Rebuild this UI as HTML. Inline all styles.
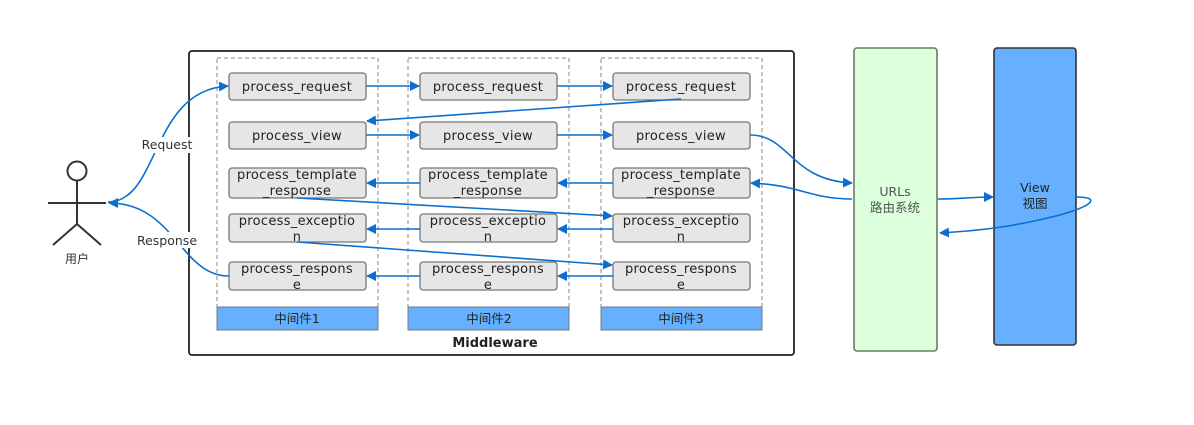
<!DOCTYPE html>
<html><head><meta charset="utf-8"><style>
html,body{margin:0;padding:0;background:#fff;}
svg{display:block}
text{font-family:"DejaVu Sans","Liberation Sans","Noto Sans CJK SC",sans-serif;}
.b{fill:#e6e6e6;stroke:#777;stroke-width:1.3}
.t{font-size:13px;fill:#222;text-anchor:middle;letter-spacing:0.3px}
.a{stroke:#0b6fd0;stroke-width:1.6;fill:none}
</style></head><body>
<svg width="1194" height="425" viewBox="0 0 1194 425" xmlns="http://www.w3.org/2000/svg">
<defs><marker id="m" markerWidth="10" markerHeight="10" refX="9" refY="5" orient="auto" markerUnits="userSpaceOnUse"><path d="M0,0 L10,5 L0,10 Z" fill="#0b6fd0"/></marker></defs>
<rect x="189" y="51" width="605" height="304" rx="3" fill="#fff" stroke="#222" stroke-width="1.8"/>
<text x="495" y="347" font-size="13" font-weight="bold" text-anchor="middle" fill="#222">Middleware</text>
<g id="cols">
<rect x="217" y="58" width="161" height="272" fill="none" stroke="#888" stroke-dasharray="4,3"/>
<rect x="217" y="307" width="161" height="23" fill="#66b0ff" stroke="#777"/>
<text x="297" y="323" font-size="12.5" text-anchor="middle" fill="#222">中间件1</text>
<rect x="408" y="58" width="161" height="272" fill="none" stroke="#888" stroke-dasharray="4,3"/>
<rect x="408" y="307" width="161" height="23" fill="#66b0ff" stroke="#777"/>
<text x="489" y="323" font-size="12.5" text-anchor="middle" fill="#222">中间件2</text>
<rect x="601" y="58" width="161" height="272" fill="none" stroke="#888" stroke-dasharray="4,3"/>
<rect x="601" y="307" width="161" height="23" fill="#66b0ff" stroke="#777"/>
<text x="681" y="323" font-size="12.5" text-anchor="middle" fill="#222">中间件3</text>
</g>
<g>
<rect class="b" x="229" y="73" width="137" height="27" rx="3"/><text class="t" x="297" y="91">process_request</text>
<rect class="b" x="229" y="122" width="137" height="27" rx="3"/><text class="t" x="297" y="140">process_view</text>
<rect class="b" x="229" y="168" width="137" height="30" rx="3"/><text class="t" x="297" y="179">process_template</text><text class="t" x="297" y="195">_response</text>
<rect class="b" x="229" y="214" width="137" height="28" rx="3"/><text class="t" x="297" y="225">process_exceptio</text><text class="t" x="297" y="241">n</text>
<rect class="b" x="229" y="262" width="137" height="28" rx="3"/><text class="t" x="297" y="273">process_respons</text><text class="t" x="297" y="289">e</text>
<rect class="b" x="420" y="73" width="137" height="27" rx="3"/><text class="t" x="488" y="91">process_request</text>
<rect class="b" x="420" y="122" width="137" height="27" rx="3"/><text class="t" x="488" y="140">process_view</text>
<rect class="b" x="420" y="168" width="137" height="30" rx="3"/><text class="t" x="488" y="179">process_template</text><text class="t" x="488" y="195">_response</text>
<rect class="b" x="420" y="214" width="137" height="28" rx="3"/><text class="t" x="488" y="225">process_exceptio</text><text class="t" x="488" y="241">n</text>
<rect class="b" x="420" y="262" width="137" height="28" rx="3"/><text class="t" x="488" y="273">process_respons</text><text class="t" x="488" y="289">e</text>
<rect class="b" x="613" y="73" width="137" height="27" rx="3"/><text class="t" x="681" y="91">process_request</text>
<rect class="b" x="613" y="122" width="137" height="27" rx="3"/><text class="t" x="681" y="140">process_view</text>
<rect class="b" x="613" y="168" width="137" height="30" rx="3"/><text class="t" x="681" y="179">process_template</text><text class="t" x="681" y="195">_response</text>
<rect class="b" x="613" y="214" width="137" height="28" rx="3"/><text class="t" x="681" y="225">process_exceptio</text><text class="t" x="681" y="241">n</text>
<rect class="b" x="613" y="262" width="137" height="28" rx="3"/><text class="t" x="681" y="273">process_respons</text><text class="t" x="681" y="289">e</text>
</g>
<rect x="854" y="48" width="83" height="303" rx="3" fill="#dcffdc" stroke="#6b7a6b" stroke-width="1.6"/>
<text x="895" y="196" font-size="12.5" text-anchor="middle" fill="#555">URLs</text>
<text x="895" y="212" font-size="12.5" text-anchor="middle" fill="#555">路由系统</text>
<rect x="994" y="48" width="82" height="297" rx="3" fill="#66b0ff" stroke="#333" stroke-width="1.6"/>
<text x="1035" y="192" font-size="12.5" text-anchor="middle" fill="#222">View</text>
<text x="1035" y="208" font-size="12.5" text-anchor="middle" fill="#222">视图</text>
<g class="a">
<line class="a" x1="366" y1="86" x2="419" y2="86" marker-end="url(#m)"/>
<line class="a" x1="557" y1="86" x2="612" y2="86" marker-end="url(#m)"/>
<line class="a" x1="681" y1="99" x2="367" y2="121" marker-end="url(#m)"/>
<line class="a" x1="366" y1="135" x2="419" y2="135" marker-end="url(#m)"/>
<line class="a" x1="557" y1="135" x2="612" y2="135" marker-end="url(#m)"/>
<path class="a" d="M750,135 C790,135 790,180 852,183" marker-end="url(#m)"/>
<path class="a" d="M852,199 C810,199 800,185 751,183" marker-end="url(#m)"/>
<line class="a" x1="613" y1="183" x2="558" y2="183" marker-end="url(#m)"/>
<line class="a" x1="420" y1="183" x2="367" y2="183" marker-end="url(#m)"/>
<line class="a" x1="297" y1="198" x2="612" y2="216" marker-end="url(#m)"/>
<line class="a" x1="613" y1="229" x2="558" y2="229" marker-end="url(#m)"/>
<line class="a" x1="420" y1="229" x2="367" y2="229" marker-end="url(#m)"/>
<line class="a" x1="297" y1="242" x2="612" y2="265" marker-end="url(#m)"/>
<line class="a" x1="613" y1="276" x2="558" y2="276" marker-end="url(#m)"/>
<line class="a" x1="420" y1="276" x2="367" y2="276" marker-end="url(#m)"/>
<path class="a" d="M229,276 C180,276 175,203 109,203" marker-end="url(#m)"/>
<path class="a" d="M108,202 C160,202 150,90 228,86" marker-end="url(#m)"/>
<path class="a" d="M938,199 C960,199 970,197 993,197" marker-end="url(#m)"/>
<path class="a" d="M1076,197 C1100,197 1095,205 1060,215 C1020,225 990,230 940,233" marker-end="url(#m)"/>
</g>
<rect x="138" y="137" width="60" height="16" fill="#fff"/>
<text x="167" y="149" font-size="12.5" text-anchor="middle" fill="#333">Request</text>
<rect x="134" y="232" width="66" height="16" fill="#fff"/>
<text x="167" y="245" font-size="12.5" text-anchor="middle" fill="#333">Response</text>
<g stroke="#333" stroke-width="2" fill="none">
<circle cx="77" cy="171" r="9.5" fill="#fff"/>
<line x1="77" y1="181" x2="77" y2="224"/>
<line x1="48" y1="203" x2="106" y2="203"/>
<line x1="77" y1="224" x2="53" y2="245"/>
<line x1="77" y1="224" x2="101" y2="245"/>
</g>
<text x="77" y="263" font-size="12" text-anchor="middle" fill="#333">用户</text>
</svg>
</body></html>
